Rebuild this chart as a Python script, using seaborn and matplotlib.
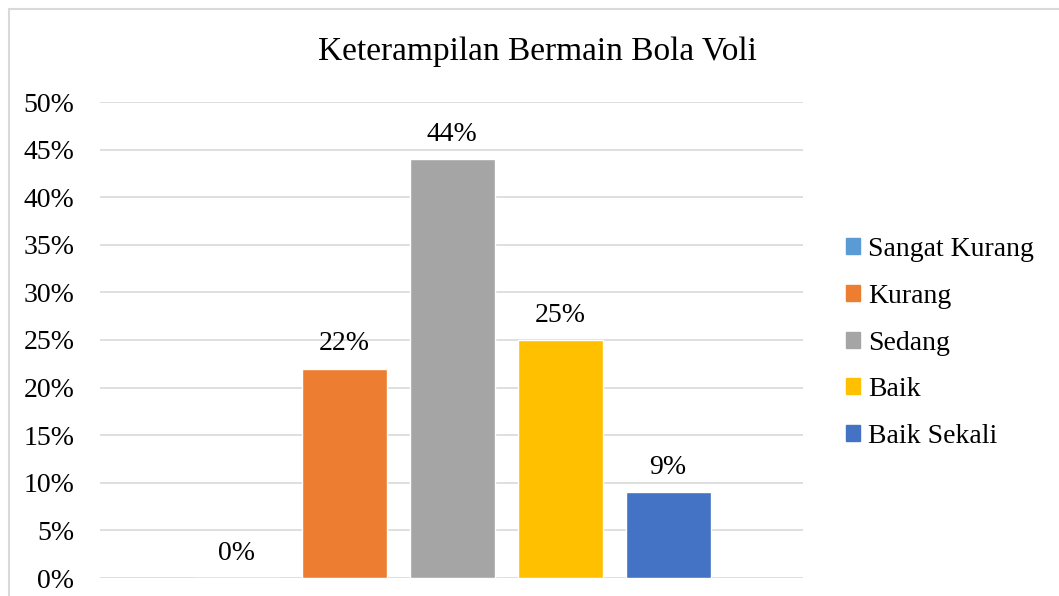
import matplotlib
matplotlib.use("Agg")
import matplotlib.pyplot as plt
import matplotlib.patches as mpatches
import pandas as pd
import seaborn as sns
from matplotlib.ticker import PercentFormatter, MultipleLocator

# data
categories = ["Sangat Kurang", "Kurang", "Sedang", "Baik", "Baik Sekali"]
values = [0.00, 0.22, 0.44, 0.25, 0.09]
colors = ["#5B9BD5", "#ED7D31", "#A5A5A5", "#FFC000", "#4472C4"]
title = "Keterampilan Bermain Bola Voli"

sns.set_theme(style="white")
plt.rcParams["font.family"] = ["Liberation Serif", "DejaVu Serif"]
plt.rcParams["text.color"] = "#000000"

df = pd.DataFrame({"kategori": categories, "nilai": values})

fig = plt.figure(figsize=(10.59, 5.96), dpi=100)
ax = fig.add_axes([100 / 1059, 1 - 578 / 596, 703 / 1059, 476 / 596])

sns.barplot(data=df, x="kategori", y="nilai", hue="kategori",
            palette=colors, width=0.787, dodge=False, legend=False, ax=ax,
            saturation=1)

ax.set_ylim(0, 0.5)
ax.set_xlim(-1.26, 5.25)
ax.yaxis.set_major_locator(MultipleLocator(0.05))
ax.yaxis.set_major_formatter(PercentFormatter(1.0, decimals=0))
ax.grid(axis="y", color="#D9D9D9", linewidth=1.2)
ax.set_axisbelow(True)
for s in ax.spines.values():
    s.set_visible(False)
ax.set_xticks([])
ax.set_xlabel("")
ax.set_ylabel("")
ax.tick_params(axis="y", labelsize=20, labelcolor="#000000", length=0, pad=18.5)

for c in ax.containers:
    ax.bar_label(c, labels=[f"{v:.0%}" for v in c.datavalues],
                 padding=9, fontsize=20, color="#000000")

fig.text(537.5 / 1059, 1 - 52 / 596, title, fontsize=24, color="#000000",
         ha="center", va="center")

handles = [mpatches.Patch(color=col, label=lab) for col, lab in zip(colors, categories)]
leg = ax.legend(handles=handles, loc="center left", bbox_to_anchor=(821 / 1059, 1 - 343 / 596),
                bbox_transform=fig.transFigure, frameon=False, fontsize=20,
                handlelength=0.5, handleheight=0.5, handletextpad=0.3, labelspacing=0.78)
for t in leg.get_texts():
    t.set_color("#000000")

# chart border like the Excel chart area
fig.patches.append(mpatches.Rectangle((9 / 1059, -0.1), 1.2, 1 - 9 / 596 + 0.1,
                                      transform=fig.transFigure, fill=False,
                                      edgecolor="#D9D9D9", linewidth=1.5))

fig.savefig("out.png", dpi=100)
